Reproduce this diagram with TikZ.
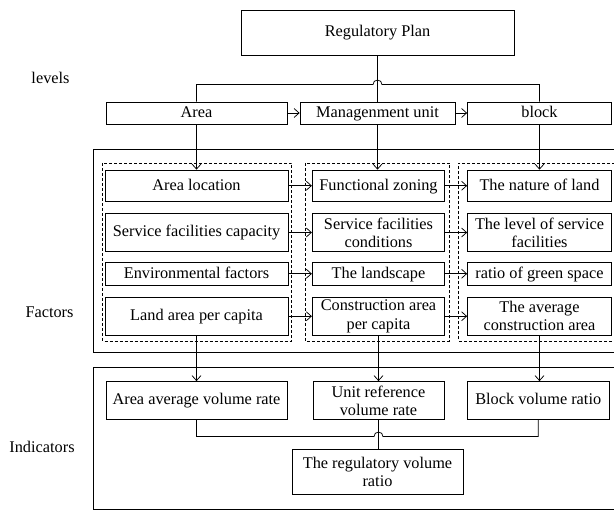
\documentclass[tikz,border=0pt]{standalone}
\usepackage{fontspec}
\setmainfont{Liberation Serif}
\usetikzlibrary{arrows.meta,calc}

\tikzset{
  x=1pt, y=-1pt,
  every node/.style={font=\fontsize{16.3}{18.3}\selectfont, inner sep=0pt},
  box/.style={draw, line width=0.75pt, minimum width=#1},
  one/.style={text height=11pt, text depth=2pt},
  two/.style={align=center},
  line/.style={line width=0.75pt},
  arr/.style={line width=0.75pt, -{Straight Barb[length=5pt,width=9pt,line width=0.75pt]}},
  group/.style={draw, line width=0.75pt, dash pattern=on 3pt off 2pt},
  frame/.style={draw, line width=0.75pt},
  side/.style={font=\fontsize{16.3}{18}\selectfont},
}

\begin{document}
\begin{tikzpicture}
\useasboundingbox (0,0) rectangle (614,510);

% outer frames and dashed groups (right sides run off the page)
\draw[frame] (620,149.5) -- (93.5,149.5) -- (93.5,352.5) -- (620,352.5);
\draw[frame] (620,367.5) -- (93.5,367.5) -- (93.5,509) -- (620,509);
\draw[group] (102.5,163) rectangle (291.5,341);
\draw[group] (305,163) rectangle (449.5,341);
\draw[group] (620,163) -- (458.5,163) -- (458.5,341) -- (620,341);

% side labels
\node[side] (lv) at (50.5,78) {levels};
\node[side] (fc) at (49.5,312) {Factors};
\node[side] (ic) at (42,447) {Indicators};

% top
\node[box=273, minimum height=45, one] (plan) at (377.5,32.5) {Regulatory Plan};

% levels
\node[box=181, minimum height=22, one] (area) at (196.5,113) {Area};
\node[box=155, minimum height=22, one] (mu) at (377.5,113) {Managenment unit};
\node[box=144, minimum height=22, one] (blk) at (539.5,113) {block};

% factors, column 1
\node[box=183, minimum height=31.5, one] (a1) at (196.5,185.75) {Area location};
\node[box=183, minimum height=38, one] (a2) at (196.5,232.5) {Service facilities capacity};
\node[box=183, minimum height=22.5, one] (a3) at (196.5,273.75) {Environmental factors};
\node[box=183, minimum height=37.5, one] (a4) at (196.5,316.25) {Land area per capita};
% factors, column 2
\node[box=132.5, minimum height=31.5, one] (b1) at (378.5,185.75) {Functional zoning};
\node[box=132.5, minimum height=38, two] (b2) at (378.5,232.5) {Service facilities\\conditions};
\node[box=132.5, minimum height=22.5, one] (b3) at (378.5,273.75) {The landscape};
\node[box=132.5, minimum height=37.5, two] (b4) at (378.5,316.25) {Construction area\\per capita};
% factors, column 3
\node[box=144, minimum height=31.5, one] (c1) at (539.5,185.75) {The nature of land};
\node[box=144, minimum height=38, two] (c2) at (539.5,232.5) {The level of service\\facilities};
\node[box=144, minimum height=22.5, one] (c3) at (539.5,273.75) {ratio of green space};
\node[box=144, minimum height=37.5, two] (c4) at (539.5,316.25) {The average\\construction area};

% indicators
\node[box=181, minimum height=38, one] (i1) at (196.5,400.5) {Area average volume rate};
\node[box=131, minimum height=38, two] (i2) at (378.5,400.5) {Unit reference\\volume rate};
\node[box=141.5, minimum height=38, one] (i3) at (538.25,400.5) {Block volume ratio};
\node[box=171, minimum height=45, two] (res) at (377.5,472) {The regulatory volume\\ratio};

% plan to levels, with a hop where the branches cross
\coordinate (hc) at (377.5,84.5);
\draw[line] (plan.south) -- (mu.north);
\draw[line] (area.north) -- (area.north |- hc) -- ($(hc)+(-4.5pt,0pt)$)
  arc[start angle=180, end angle=0, radius=4.5pt] -- (blk.north |- hc) -- (blk.north);

% along the levels
\draw[arr] (area.east) -- (mu.west);
\draw[arr] (mu.east) -- (blk.west);

% levels down to factors
\draw[arr] (area.south) -- (area.south |- a1.north);
\draw[arr] (mu.south) -- (mu.south |- b1.north);
\draw[arr] (blk.south) -- (blk.south |- c1.north);

% across the factors
\foreach \r in {1,...,4} {
  \draw[arr] (a\r.east) -- (b\r.west);
  \draw[arr] (b\r.east) -- (c\r.west);
}

% factors down to indicators
\draw[arr] (a4.south) -- (a4.south |- i1.north);
\draw[arr] (b4.south) -- (b4.south |- i2.north);
\draw[arr] (c4.south) -- (c4.south |- i3.north);

% indicators joined into the final ratio
\coordinate (hb) at (378.5,436.5);
\draw[line] (i2.south) -- (i2.south |- res.north);
\draw[line] (i1.south) -- (i1.south |- hb) -- ($(hb)+(-4.5pt,0pt)$)
  arc[start angle=180, end angle=0, radius=4.5pt] -- (i3.south |- hb) -- (i3.south);
\end{tikzpicture}
\end{document}
